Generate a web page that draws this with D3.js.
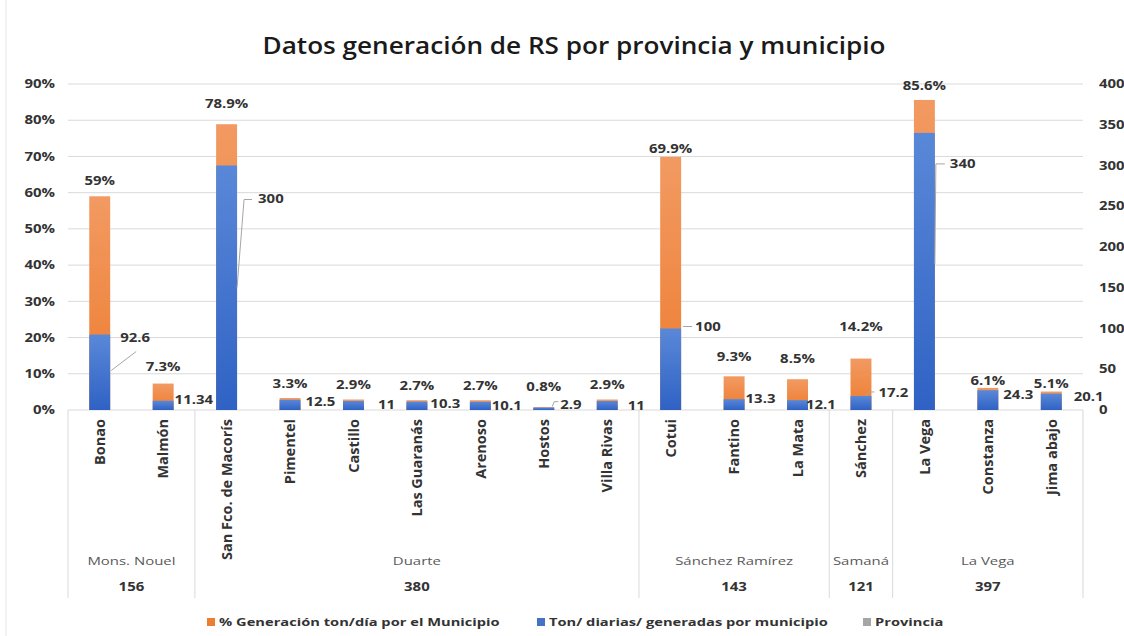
<!DOCTYPE html>
<html>
<head>
<meta charset="utf-8">
<script src="https://cdn.jsdelivr.net/npm/d3@7/dist/d3.min.js"></script>
<style>
  body { margin: 0; background: #fff; }
  text { font-family: 'Open Sans', sans-serif; }
</style>
</head>
<body>
<svg id="chart" width="1124" height="636"></svg>
<script>
(function () {
    'use strict';

    // municipios en el eje x
    var municipios = ['Bonao', 'Malmón', 'San Fco. de Macorís', 'Pimentel', 'Castillo', 'Las Guaranás',
        'Arenoso', 'Hostos', 'Villa Rivas', 'Cotui', 'Fantino', 'La Mata', 'Sánchez', 'La Vega',
        'Constanza', 'Jima abajo'];
    // % generacion ton/dia por el municipio (eje izq.)
    var pctGeneracion = [0.59, 0.073, 0.789, 0.033, 0.029, 0.027, 0.027, 0.008, 0.029, 0.699,
        0.093, 0.085, 0.142, 0.856, 0.061, 0.051];
    // ton diarias generadas por municipio (eje der.)
    var tonDiarias = [92.6, 11.34, 300, 12.5, 11, 10.3, 10.1, 2.9, 11, 100, 13.3, 12.1, 17.2, 340, 24.3, 20.1];
    // provincias, cuantos municipios tiene cada una y su total
    var provincias = ['Mons. Nouel', 'Duarte', 'Sánchez Ramírez', 'Samaná', 'La Vega'];
    var provNumMunicipios = [2, 7, 3, 1, 3];
    var provTotales = [156, 380, 143, 121, 397];
    var pctTicks = [0, 0.1, 0.2, 0.3, 0.4, 0.5, 0.6, 0.7, 0.8, 0.9];
    var tonTicks = [0, 50, 100, 150, 200, 250, 300, 350, 400];
    var leyenda = ['% Generación ton/día  por el Municipio', 'Ton/ diarias/ generadas por municipio', 'Provincia'];

    // the source picture is stretched sideways, so draw everything in a squeezed frame
    var S = 1.3;
    function sx(v) { return v / S; }

    // hand placed labels (screen px), like in the original sheet
    var pctLift = [11, 13, 16, 10, 10, 10, 10, 16, 10, 4, 15, 16, 28, 10, 3, 4];
    var tonNudge = {
        0: {dx: 10, dy: 3, lead: [[-9, 33], [16, 14]]},
        1: {dx: 1, dy: -1},
        2: {dx: 21, dy: 33, lead: [[-21, 89], [-14, 1], [-6, 1]]},
        3: {dx: 5, dy: 2},
        4: {dx: 14, dy: 4},
        5: {dx: 3, dy: 2},
        6: {dx: 1, dy: 4},
        7: {dx: 6, dy: -3, lead: [[-8, 2], [-6, -3], [-2, -3]]},
        8: {dx: 10, dy: 5},
        9: {dx: 14, dy: -2, lead: [[-12, 0], [-3, 0]]},
        10: {dx: 1, dy: 0},
        11: {dx: -2, dy: 5},
        12: {dx: 7, dy: -3, lead: [[-13, 3], [-9, -1], [-4, -1]]},
        13: {dx: 15, dy: 31, lead: [[-15, 100], [-14, 0], [-5, 0]]},
        14: {dx: 5, dy: 5},
        15: {dx: 12, dy: 3}
    };

    var left = 68, right = 1083, top = 84, base = 410;

    var svg = d3.select('#chart');
    var g = svg.append('g').attr('transform', 'scale(' + S + ',1)');

    var defs = svg.append('defs');
    function grad(id, c1, c2) {
        var lg = defs.append('linearGradient').attr('id', id)
            .attr('x1', 0).attr('y1', 0).attr('x2', 0).attr('y2', 1);
        lg.append('stop').attr('offset', '0%').attr('stop-color', c1);
        lg.append('stop').attr('offset', '100%').attr('stop-color', c2);
    }
    grad('gOrange', '#f29a62', '#ed7b2e');
    grad('gBlue', '#5a88d8', '#2f62c4');

    var x = d3.scaleBand().domain(municipios)
        .range([sx(left), sx(right)])
        .paddingInner(0.67).paddingOuter(0.335);
    var yL = d3.scaleLinear().domain([0, 0.9]).range([base, top]);
    var yR = d3.scaleLinear().domain([0, 400]).range([base, top]);
    var step = x.step();

    // faint chart border
    svg.append('line').attr('x1', 6).attr('x2', 6).attr('y1', 0).attr('y2', 636)
        .attr('stroke', '#e4e4e4');

    // title
    g.append('text')
        .attr('x', sx(574)).attr('y', 54)
        .attr('text-anchor', 'middle')
        .attr('font-size', 23).attr('font-weight', 600).attr('fill', '#1a1a1a')
        .attr('textLength', sx(623)).attr('lengthAdjust', 'spacingAndGlyphs')
        .text('Datos generación de RS por provincia y municipio');

    // gridlines
    g.append('g').selectAll('line').data(pctTicks).enter().append('line')
        .attr('x1', sx(left)).attr('x2', sx(right))
        .attr('y1', d => yL(d)).attr('y2', d => yL(d))
        .attr('stroke', '#d9d9d9').attr('vector-effect', 'non-scaling-stroke');

    // axes
    var axL = g.append('g').attr('transform', 'translate(' + sx(left) + ',0)')
        .call(d3.axisLeft(yL).tickValues(pctTicks).tickSize(0).tickPadding(sx(13))
            .tickFormat(d3.format('.0%')));
    var axR = g.append('g').attr('transform', 'translate(' + sx(right) + ',0)')
        .call(d3.axisRight(yR).tickValues(tonTicks).tickSize(0).tickPadding(sx(16)));
    [axL, axR].forEach(function (ax) {
        ax.select('.domain').remove();
        ax.selectAll('text').attr('font-size', 11.5).attr('font-weight', 'bold').attr('fill', '#333');
    });

    // bars
    var rows = municipios.map(function (m, i) {
        return {m: m, i: i, pct: pctGeneracion[i], ton: tonDiarias[i]};
    });
    g.append('g').selectAll('rect').data(rows).enter().append('rect')
        .attr('x', d => x(d.m)).attr('width', x.bandwidth())
        .attr('y', d => yL(d.pct)).attr('height', d => base - yL(d.pct))
        .attr('fill', 'url(#gOrange)');
    g.append('g').selectAll('rect').data(rows).enter().append('rect')
        .attr('x', d => x(d.m)).attr('width', x.bandwidth())
        .attr('y', d => yR(d.ton)).attr('height', d => base - yR(d.ton))
        .attr('fill', 'url(#gBlue)');

    // % labels
    function fmtPct(v) {
        var s = (Math.round(v * 1000) / 10).toString();
        return s + '%';
    }
    g.append('g').selectAll('text').data(rows).enter().append('text')
        .attr('x', d => x(d.m) + x.bandwidth() / 2)
        .attr('y', d => yL(d.pct) - pctLift[d.i])
        .attr('text-anchor', 'middle')
        .attr('font-size', 11.5).attr('font-weight', 'bold').attr('fill', '#333')
        .text(d => fmtPct(d.pct));

    // ton labels + leader lines
    var tonG = g.append('g');
    rows.forEach(function (d) {
        var n = tonNudge[d.i] || {dx: 4, dy: 0};
        var lx = x(d.m) + x.bandwidth() + sx(n.dx);
        var ly = yR(d.ton) + n.dy;
        if (n.lead) {
            tonG.append('path')
                .attr('d', d3.line()(n.lead.map(p => [lx + sx(p[0]), ly + p[1]])))
                .attr('fill', 'none').attr('stroke', '#a6a6a6')
                .attr('vector-effect', 'non-scaling-stroke');
        }
        tonG.append('text')
            .attr('x', lx).attr('y', ly).attr('dy', '0.35em')
            .attr('font-size', 11.5).attr('font-weight', 'bold').attr('fill', '#333')
            .text(d.ton);
    });

    // category labels (vertical) - drawn unstretched, in screen px
    svg.append('g').selectAll('text').data(municipios).enter().append('text')
        .attr('transform', d => 'translate(' + S * (x(d) + x.bandwidth() / 2) + ',' + 419 + ') rotate(-90)')
        .attr('dy', '0.36em')
        .attr('text-anchor', 'end')
        .attr('font-size', 14.5).attr('font-weight', 'bold').attr('fill', '#333')
        .text(d => d);

    // province groups
    var bounds = [];
    var k = 0;
    provNumMunicipios.forEach(function (n) {
        var a = x(municipios[k]) + x.bandwidth() / 2 - step / 2;
        var b = x(municipios[k + n - 1]) + x.bandwidth() / 2 + step / 2;
        bounds.push([a, b]);
        k += n;
    });
    var sepX = [bounds[0][0]].concat(bounds.map(b => b[1]));
    g.append('g').selectAll('line').data(sepX).enter().append('line')
        .attr('x1', d => d).attr('x2', d => d)
        .attr('y1', base).attr('y2', 598)
        .attr('stroke', '#d9d9d9').attr('vector-effect', 'non-scaling-stroke');
    g.append('g').selectAll('text').data(provincias).enter().append('text')
        .attr('x', (d, i) => (bounds[i][0] + bounds[i][1]) / 2)
        .attr('y', 565)
        .attr('text-anchor', 'middle')
        .attr('font-size', 11.5).attr('fill', '#595959')
        .text(d => d);
    g.append('g').selectAll('text').data(provTotales).enter().append('text')
        .attr('x', (d, i) => (bounds[i][0] + bounds[i][1]) / 2)
        .attr('y', 591)
        .attr('text-anchor', 'middle')
        .attr('font-size', 11.5).attr('font-weight', 'bold').attr('fill', '#333')
        .text(d => d);

    // legend
    var legX = [207, 537, 863];
    var legCol = ['#ed7d31', '#4472c4', '#a5a5a5'];
    var leg = g.append('g').selectAll('g').data(leyenda).enter().append('g')
        .attr('transform', (d, i) => 'translate(' + sx(legX[i]) + ',622)');
    leg.append('rect').attr('x', 0).attr('y', -4).attr('width', sx(8)).attr('height', 8)
        .attr('fill', (d, i) => legCol[i]);
    leg.append('text').attr('x', sx(12)).attr('dy', '0.35em')
        .attr('font-size', 11.3).attr('font-weight', 'bold').attr('fill', '#333')
        .text(d => d);
}());
</script>
</body>
</html>
